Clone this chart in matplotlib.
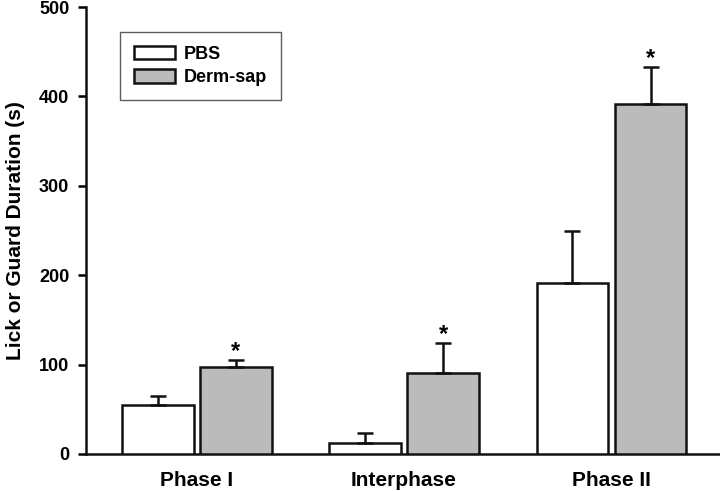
import numpy as np
import matplotlib
matplotlib.use('Agg')
import matplotlib.pyplot as plt

# 数据
phases = ['Phase I', 'Interphase', 'Phase II']
pbs_mean = [55, 12.5, 191]
pbs_sem = [10, 10.5, 59]
derm_mean = [97, 90.5, 391]
derm_sem = [8, 33.5, 42]
derm_sig = [True, True, True]

plt.rcParams['font.family'] = ['Liberation Sans', 'DejaVu Sans']
plt.rcParams['font.weight'] = 'bold'

fig = plt.figure(figsize=(7.2, 4.91), dpi=100)
ax = fig.add_axes([86 / 720, 1 - 454 / 491, (720 - 86) / 720, (454 - 7) / 491])

x = np.arange(len(phases))
w = 0.347
off = w / 2 + 0.0145
err_kw = dict(ecolor='#111111', elinewidth=1.8, capsize=5.5, capthick=1.8)

ax.bar(x - off, pbs_mean, w, color='white', edgecolor='#111111', linewidth=1.8,
       yerr=[np.zeros(3), pbs_sem], error_kw=err_kw, label='PBS', zorder=3)
ax.bar(x + off, derm_mean, w, color='#bbbbbb', edgecolor='#111111', linewidth=1.8,
       yerr=[np.zeros(3), derm_sem], error_kw=err_kw, label='Derm-sap', zorder=3)

# 显著性标记
for i, sig in enumerate(derm_sig):
    if sig:
        ax.text(x[i] + off, derm_mean[i] + derm_sem[i] - 3, '*', ha='center', va='bottom',
                fontsize=17, fontweight='bold')

ax.set_xlim(-0.533, 2.523)
ax.set_ylim(0, 500)
ax.set_yticks([0, 100, 200, 300, 400, 500])
ax.set_xticks(x)
ax.set_xticklabels(phases, fontsize=15, fontweight='bold')
ax.tick_params(axis='x', length=0, pad=12)
ax.tick_params(axis='y', length=6, width=1.8, labelsize=13, pad=6)
ax.set_ylabel('Lick or Guard Duration (s)', fontsize=15, fontweight='bold', labelpad=10)

for s in ['top', 'right']:
    ax.spines[s].set_visible(False)
for s in ['left', 'bottom']:
    ax.spines[s].set_linewidth(1.8)
    ax.spines[s].set_color('#111111')

leg = ax.legend(loc='upper left', bbox_to_anchor=(34 / 634, 1 - 25 / 447), borderaxespad=0,
                frameon=True, fancybox=False, edgecolor='#333333', fontsize=13,
                handlelength=2.3, handleheight=0.8, borderpad=0.75, labelspacing=0.35,
                handletextpad=0.5)
leg.get_frame().set_linewidth(1.0)

fig.savefig('out.png', dpi=100)
